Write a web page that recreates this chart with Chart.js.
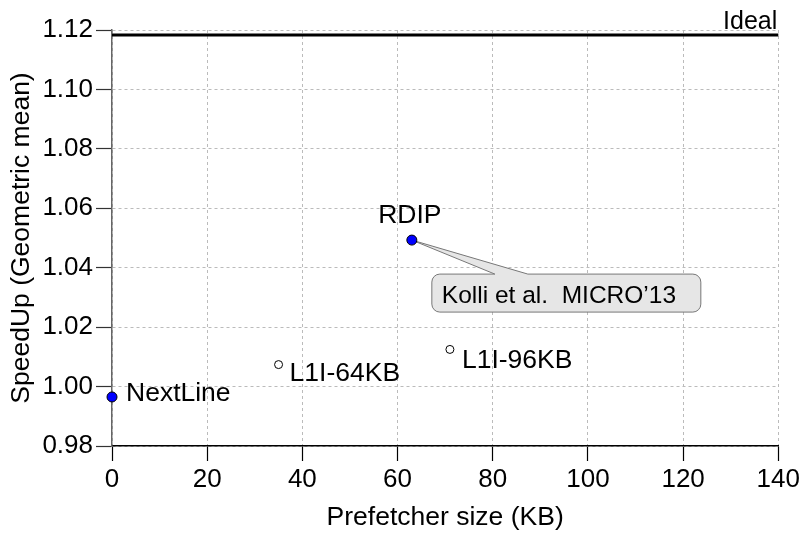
<!DOCTYPE html>
<html>
<head>
<meta charset="utf-8">
<script src="https://cdn.jsdelivr.net/npm/chart.js@4/dist/chart.umd.min.js"></script>
<style>
    html, body { margin: 0; padding: 0; background: #fff; }
    #wrap { width: 803px; height: 534px; }
</style>
</head>
<body>
<div id="wrap"><canvas id="speedup-chart"></canvas></div>
<script>
// Prefetchers (filled markers) and plain bigger caches (open markers)
const prefetchers = ['NextLine', 'RDIP'];
const prefetcherSizes = [0, 63];
const prefetcherSpeedups = [0.9965, 1.0493];

const cacheConfigs = ['L1I-64KB', 'L1I-96KB'];
const cacheSizes = [35, 71];
const cacheSpeedups = [1.0074, 1.0125];

const idealSpeedup = 1.1183;
const idealLabel = 'Ideal';
const citation = 'Kolli et al.  MICRO\u201913';

const xTicks = [0, 20, 40, 60, 80, 100, 120, 140];
const yTicks = [0.98, 1.00, 1.02, 1.04, 1.06, 1.08, 1.10, 1.12];

const FONT = "'Liberation Sans', Arial, Helvetica, sans-serif";

// label offsets (px) from the marker: [dx, dy of baseline, align]
const labelPlacement = {
    'NextLine': [14, 4.5, 'left'],
    'RDIP': [-2, -17.5, 'center'],
    'L1I-64KB': [11, 16.5, 'left'],
    'L1I-96KB': [12, 18.5, 'left']
};

const toPoints = (xs, ys) => xs.map((x, i) => ({ x: x, y: ys[i] }));

const pointLabels = {
    id: 'pointLabels',
    afterDatasetsDraw(chart) {
        const ctx = chart.ctx;
        const x = chart.scales.x, y = chart.scales.y;
        ctx.save();
        ctx.font = '26.5px ' + FONT;
        ctx.fillStyle = '#000';
        ctx.textBaseline = 'alphabetic';
        const put = (names, xs, ys) => names.forEach((name, i) => {
            const p = labelPlacement[name];
            ctx.textAlign = p[2];
            ctx.fillText(name, x.getPixelForValue(xs[i]) + p[0], y.getPixelForValue(ys[i]) + p[1]);
        });
        put(prefetchers, prefetcherSizes, prefetcherSpeedups);
        put(cacheConfigs, cacheSizes, cacheSpeedups);

        // "Ideal" above the right end of the ideal line
        ctx.font = '25px ' + FONT;
        ctx.textAlign = 'right';
        ctx.fillText(idealLabel, x.getPixelForValue(140) - 1, y.getPixelForValue(idealSpeedup) - 6);
        ctx.restore();
    }
};

// callout box pointing at RDIP
const callout = {
    id: 'callout',
    beforeDatasetsDraw(chart) {
        const ctx = chart.ctx;
        const i = prefetchers.indexOf('RDIP');
        const px = chart.scales.x.getPixelForValue(prefetcherSizes[i]);
        const py = chart.scales.y.getPixelForValue(prefetcherSpeedups[i]);
        const bx = px + 20, by = py + 34, bw = 269, bh = 38, r = 8;
        ctx.save();
        ctx.fillStyle = '#e6e6e6';
        ctx.strokeStyle = '#777';
        ctx.lineWidth = 1;
        ctx.beginPath();
        ctx.moveTo(bx + r, by);
        ctx.lineTo(px + 83, by);
        ctx.lineTo(px, py);
        ctx.lineTo(px + 116, by);
        ctx.lineTo(bx + bw - r, by);
        ctx.arcTo(bx + bw, by, bx + bw, by + r, r);
        ctx.lineTo(bx + bw, by + bh - r);
        ctx.arcTo(bx + bw, by + bh, bx + bw - r, by + bh, r);
        ctx.lineTo(bx + r, by + bh);
        ctx.arcTo(bx, by + bh, bx, by + bh - r, r);
        ctx.lineTo(bx, by + r);
        ctx.arcTo(bx, by, bx + r, by, r);
        ctx.closePath();
        ctx.fill();
        ctx.stroke();
        ctx.fillStyle = '#000';
        ctx.font = '24.5px ' + FONT;
        ctx.textAlign = 'left';
        ctx.textBaseline = 'alphabetic';
        ctx.fillText(citation, bx + 10, by + 29);
        ctx.restore();
    }
};

new Chart(document.getElementById('speedup-chart'), {
    type: 'scatter',
    data: {
        datasets: [
            {
                label: 'Ideal',
                type: 'line',
                data: [{ x: xTicks[0], y: idealSpeedup }, { x: xTicks[xTicks.length - 1], y: idealSpeedup }],
                borderColor: '#000',
                borderWidth: 3,
                pointRadius: 0,
                fill: false,
                clip: false
            },
            {
                label: 'Cache',
                data: toPoints(cacheSizes, cacheSpeedups),
                backgroundColor: '#fff',
                borderColor: '#000',
                borderWidth: 1,
                pointRadius: 4,
                clip: false
            },
            {
                label: 'Prefetcher',
                data: toPoints(prefetcherSizes, prefetcherSpeedups),
                backgroundColor: '#0000ff',
                borderColor: '#000',
                borderWidth: 1,
                pointRadius: 5,
                clip: false
            }
        ]
    },
    options: {
        responsive: true,
        maintainAspectRatio: false,
        animation: false,
        layout: { padding: { top: 30, right: 24, left: 0, bottom: 0 } },
        plugins: {
            legend: { display: false },
            tooltip: { enabled: false }
        },
        scales: {
            x: {
                type: 'linear',
                min: 0,
                max: 140,
                afterBuildTicks: s => { s.ticks = xTicks.map(v => ({ value: v })); },
                afterFit: s => { s.height = 88; },
                grid: {
                    color: '#bbb',
                    lineWidth: 1,
                    tickLength: 15,
                    tickColor: '#000',
                    tickWidth: 1.2
                },
                border: { color: '#000', width: 1.5, dash: [3, 3] },
                ticks: {
                    color: '#000',
                    font: { family: FONT, size: 26 },
                    padding: 3,
                    maxRotation: 0
                },
                title: {
                    display: true,
                    text: 'Prefetcher size (KB)',
                    color: '#000',
                    font: { family: FONT, size: 26.5 },
                    padding: { top: 0, bottom: 0 }
                }
            },
            y: {
                type: 'linear',
                min: 0.98,
                max: 1.12,
                afterBuildTicks: s => { s.ticks = yTicks.map(v => ({ value: v })); },
                afterFit: s => { s.width = 112; },
                grid: {
                    color: '#bbb',
                    lineWidth: 1,
                    tickLength: 16,
                    tickColor: '#333',
                    tickWidth: 1.2
                },
                border: { color: '#666', width: 1.5, dash: [3, 3] },
                ticks: {
                    color: '#000',
                    font: { family: FONT, size: 26 },
                    padding: 3,
                    callback: v => v.toFixed(2)
                },
                title: {
                    display: true,
                    text: 'SpeedUp (Geometric mean)',
                    color: '#000',
                    font: { family: FONT, size: 26.5 },
                    padding: { top: 6, bottom: 0 }
                }
            }
        }
    },
    plugins: [callout, pointLabels]
});
</script>
</body>
</html>
